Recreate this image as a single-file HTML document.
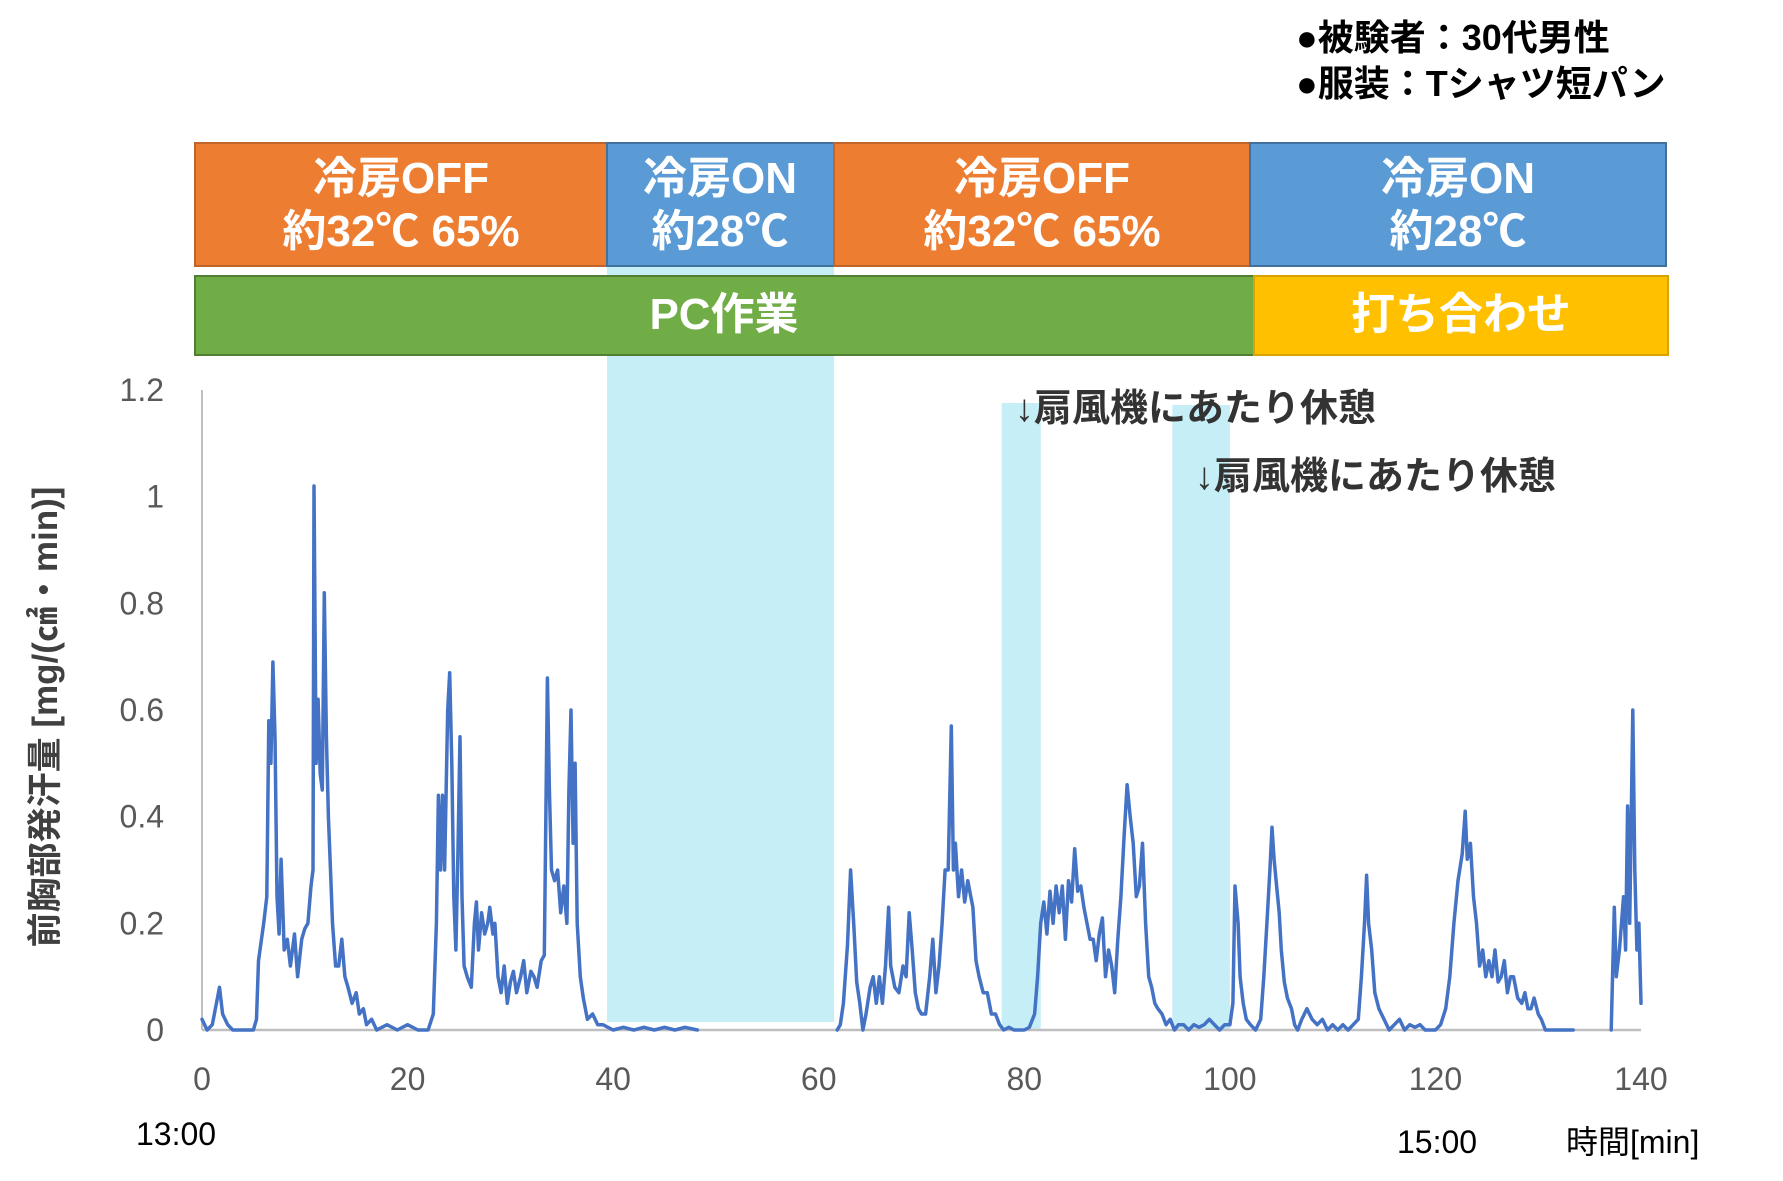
<!DOCTYPE html>
<html><head><meta charset="utf-8"><style>
html,body{margin:0;padding:0;background:#fff;}
svg{display:block;font-family:"Liberation Sans","Noto Sans CJK JP",sans-serif;}
</style></head><body>
<svg id="chart" width="1783" height="1181" viewBox="0 0 1783 1181" xmlns="http://www.w3.org/2000/svg">
<g id="shades"></g>
<g>
<rect x="195" y="143" width="412" height="123" fill="#ED7D31" stroke="#C0652A" stroke-width="2"/>
<rect x="607" y="143" width="227" height="123" fill="#5B9BD5" stroke="#41719C" stroke-width="2"/>
<rect x="834" y="143" width="416" height="123" fill="#ED7D31" stroke="#C0652A" stroke-width="2"/>
<rect x="1250" y="143" width="416" height="123" fill="#5B9BD5" stroke="#41719C" stroke-width="2"/>
<rect x="195" y="276" width="1059" height="79" fill="#70AD47" stroke="#507E32" stroke-width="2"/>
<rect x="1254" y="276" width="414" height="79" fill="#FFC000" stroke="#D9A400" stroke-width="2"/>
<g fill="#fff" font-weight="bold" font-size="44" text-anchor="middle">
<text x="401" y="193">冷房OFF</text>
<text x="401" y="246">約32℃ 65%</text>
<text x="720" y="193">冷房ON</text>
<text x="720" y="246">約28℃</text>
<text x="1042" y="193">冷房OFF</text>
<text x="1042" y="246">約32℃ 65%</text>
<text x="1458" y="193">冷房ON</text>
<text x="1458" y="246">約28℃</text>
<text x="724" y="329">PC作業</text>
<text x="1461" y="329">打ち合わせ</text>
</g>
</g>
<g font-weight="bold" font-size="36" fill="#000">
<text x="1296" y="50">●被験者：30代男性</text>
<text x="1296" y="96">●服装：Tシャツ短パン</text>
</g>
<g id="axes"></g>
<g id="series"></g>
<g font-weight="bold" font-size="38" fill="#333">
<text x="1015" y="421">↓扇風機にあたり休憩</text>
<text x="1195" y="489">↓扇風機にあたり休憩</text>
</g>
<text transform="translate(57,717) rotate(-90)" text-anchor="middle" font-weight="bold" font-size="35" fill="#404040">前胸部発汗量 [mg/(㎠・min)]</text>
<text x="136" y="1145" font-size="32" fill="#000">13:00</text>
<text x="1397" y="1153" font-size="32" fill="#000">15:00</text>
<text x="1566" y="1153" font-size="32" fill="#000">時間[min]</text>
</svg>
<script>
const xTicks=[0,20,40,60,80,100,120,140];
const yTicks=[0,0.2,0.4,0.6,0.8,1,1.2];
const yTickLabels=["0","0.2","0.4","0.6","0.8","1","1.2"];
const restStart=[77.8,94.4];
const restEnd=[81.6,100.0];
const acOnStart=[39.4];
const acOnEnd=[61.5];
const times=[0,0.5,1,1.7,2,2.5,3,4,5,5.3,5.5,6,6.3,6.5,6.7,6.9,7.1,7.3,7.5,7.7,8,8.3,8.6,9,9.3,9.7,10,10.3,10.6,10.8,10.9,11.1,11.3,11.5,11.7,11.9,12.1,12.3,12.5,12.7,13,13.3,13.6,13.9,14.2,14.6,15,15.3,15.7,16,16.5,17,18,19,20,21,22,22.5,22.8,23,23.2,23.4,23.6,23.9,24.1,24.3,24.5,24.7,24.9,25.1,25.3,25.5,25.8,26.2,26.5,26.7,26.9,27.2,27.5,27.8,28,28.3,28.5,28.8,29.1,29.4,29.7,30,30.3,30.6,31,31.3,31.6,32,32.3,32.6,33,33.3,33.6,33.8,34,34.3,34.6,34.9,35.2,35.5,35.7,35.9,36.1,36.3,36.5,36.8,37.1,37.5,38,38.5,39,40,41,42,43,44,45,46,47,48.2,
null,
61.8,62.1,62.4,62.8,63.1,63.4,63.7,64,64.3,64.6,65,65.3,65.6,65.9,66.2,66.5,66.8,67,67.4,67.8,68.2,68.5,68.8,69.1,69.4,69.7,70,70.4,70.8,71.1,71.4,71.7,72,72.3,72.6,72.9,73.1,73.3,73.6,73.9,74.2,74.5,74.8,75,75.3,75.6,76,76.4,76.8,77.2,77.6,78,78.5,79,79.5,80,80.5,81,81.3,81.6,81.9,82.2,82.5,82.8,83.1,83.4,83.7,84,84.3,84.6,84.9,85.2,85.5,85.8,86.1,86.4,86.7,87,87.3,87.6,87.9,88.2,88.5,88.8,89.1,89.4,89.7,90,90.3,90.6,90.9,91.2,91.5,91.8,92.1,92.4,92.7,93,93.4,93.8,94.2,94.6,95,95.5,96,96.5,97,97.5,98,98.5,99,99.5,100,100.3,100.5,100.8,101,101.3,101.6,102,102.5,103,103.3,103.6,103.9,104.1,104.3,104.5,104.8,105,105.3,105.6,106,106.3,106.6,107,107.5,108,108.5,109,109.5,110,110.5,111,111.5,112,112.5,112.8,113.1,113.3,113.5,113.8,114.1,114.5,115,115.5,116,116.5,117,117.5,118,118.5,119,119.5,120,120.5,121,121.4,121.8,122.2,122.6,122.9,123.1,123.4,123.7,124,124.3,124.6,124.9,125.2,125.5,125.8,126.1,126.4,126.7,127,127.3,127.6,128,128.4,128.7,129,129.3,129.6,130,130.3,130.7,131.2,132,133.4,
null,
137.1,137.4,137.6,137.9,138.1,138.3,138.5,138.7,138.9,139.2,139.4,139.6,139.8,140];
const sweat=[0.02,0.0,0.01,0.08,0.03,0.01,0.0,0,0,0.02,0.13,0.2,0.25,0.58,0.5,0.69,0.55,0.25,0.18,0.32,0.15,0.17,0.12,0.18,0.1,0.17,0.19,0.2,0.27,0.3,1.02,0.5,0.62,0.48,0.45,0.82,0.55,0.4,0.3,0.2,0.12,0.12,0.17,0.1,0.08,0.05,0.07,0.03,0.04,0.01,0.02,0,0.01,0,0.01,0,0,0.03,0.2,0.44,0.3,0.44,0.3,0.6,0.67,0.5,0.25,0.15,0.33,0.55,0.25,0.12,0.1,0.08,0.2,0.24,0.15,0.22,0.18,0.2,0.23,0.18,0.2,0.1,0.07,0.12,0.05,0.09,0.11,0.07,0.1,0.13,0.07,0.11,0.1,0.08,0.13,0.14,0.66,0.45,0.3,0.28,0.3,0.22,0.27,0.2,0.45,0.6,0.35,0.5,0.2,0.1,0.06,0.02,0.03,0.01,0.01,0,0.005,0,0.005,0,0.005,0,0.005,0,
null,
0.0,0.01,0.05,0.16,0.3,0.2,0.09,0.05,0.0,0.03,0.08,0.1,0.05,0.1,0.05,0.12,0.23,0.12,0.08,0.07,0.12,0.1,0.22,0.15,0.07,0.04,0.03,0.03,0.1,0.17,0.07,0.12,0.2,0.3,0.3,0.57,0.3,0.35,0.25,0.3,0.24,0.28,0.25,0.23,0.13,0.1,0.07,0.07,0.03,0.03,0.01,0.0,0.005,0.0,0.0,0.0,0.005,0.03,0.1,0.2,0.24,0.18,0.26,0.2,0.27,0.22,0.27,0.17,0.28,0.24,0.34,0.26,0.27,0.23,0.2,0.17,0.17,0.13,0.18,0.21,0.1,0.15,0.12,0.07,0.17,0.25,0.36,0.46,0.4,0.35,0.25,0.27,0.35,0.2,0.1,0.08,0.05,0.04,0.03,0.01,0.02,0.0,0.01,0.01,0.0,0.01,0.005,0.01,0.02,0.01,0.0,0.01,0.01,0.05,0.27,0.2,0.1,0.05,0.02,0.01,0.0,0.02,0.1,0.2,0.3,0.38,0.32,0.28,0.22,0.15,0.09,0.06,0.04,0.01,0.0,0.02,0.04,0.02,0.01,0.02,0.0,0.01,0.0,0.01,0.0,0.01,0.02,0.1,0.2,0.29,0.2,0.15,0.07,0.04,0.02,0.0,0.01,0.02,0.0,0.01,0.005,0.01,0.0,0.0,0.0,0.01,0.04,0.1,0.2,0.28,0.33,0.41,0.32,0.35,0.25,0.2,0.12,0.15,0.1,0.13,0.1,0.15,0.09,0.1,0.13,0.07,0.1,0.1,0.06,0.05,0.07,0.04,0.04,0.06,0.03,0.02,0.0,0.0,0.0,0.0,
null,
0.0,0.23,0.1,0.15,0.2,0.25,0.15,0.42,0.2,0.6,0.3,0.15,0.2,0.05];

const X0=202,X1=1641,Y0=1030,Y1=390;
function sx(t){return X0+(t-0)/(140-0)*(X1-X0);}
function sy(v){return Y0-(v/1.2)*(Y0-Y1);}
const NS="http://www.w3.org/2000/svg";
function mk(tag,attrs,parent){const e=document.createElementNS(NS,tag);for(const k in attrs)e.setAttribute(k,attrs[k]);parent.appendChild(e);return e;}

const shades=document.getElementById('shades');
for(let i=0;i<acOnStart.length;i++){
  const r=mk('rect',{x:sx(acOnStart[i]),y:266,width:sx(acOnEnd[i])-sx(acOnStart[i]),height:1022-266,fill:'#C5EEF7'},shades);
  
  
}
for(let i=0;i<restStart.length;i++){
  const r=mk('rect',{x:sx(restStart[i]),y:i===0?403:405,width:sx(restEnd[i])-sx(restStart[i]),height:Y0-(i===0?403:405),fill:'#C5EEF7'},shades);
  
  
}

const axes=document.getElementById('axes');
const ya=mk('line',{x1:X0,y1:Y1,x2:X0,y2:Y0,stroke:'#BFBFBF','stroke-width':2},axes);


const xa=mk('line',{x1:X0,y1:Y0,x2:X1,y2:Y0,stroke:'#BFBFBF','stroke-width':2.5},axes);


xTicks.forEach(t=>{
  const tx=mk('text',{x:sx(t),y:1090,'text-anchor':'middle','font-size':32,fill:'#595959'},axes);
  tx.textContent=String(t);
  
  
});
yTicks.forEach((v,i)=>{
  const tx=mk('text',{x:164,y:sy(v)+11,'text-anchor':'end','font-size':32,fill:'#595959'},axes);
  tx.textContent=yTickLabels[i];
  
  
});

const series=document.getElementById('series');
let d='',pen=false;
for(let i=0;i<times.length;i++){
  if(times[i]===null||sweat[i]===null){pen=false;continue;}
  d+=(pen?'L':'M')+sx(times[i]).toFixed(1)+','+sy(sweat[i]).toFixed(1);
  pen=true;
}
const p=mk('path',{d:d,fill:'none',stroke:'#4472C4','stroke-width':3.5,'stroke-linejoin':'round','stroke-linecap':'round'},series);


</script>
</body></html>
